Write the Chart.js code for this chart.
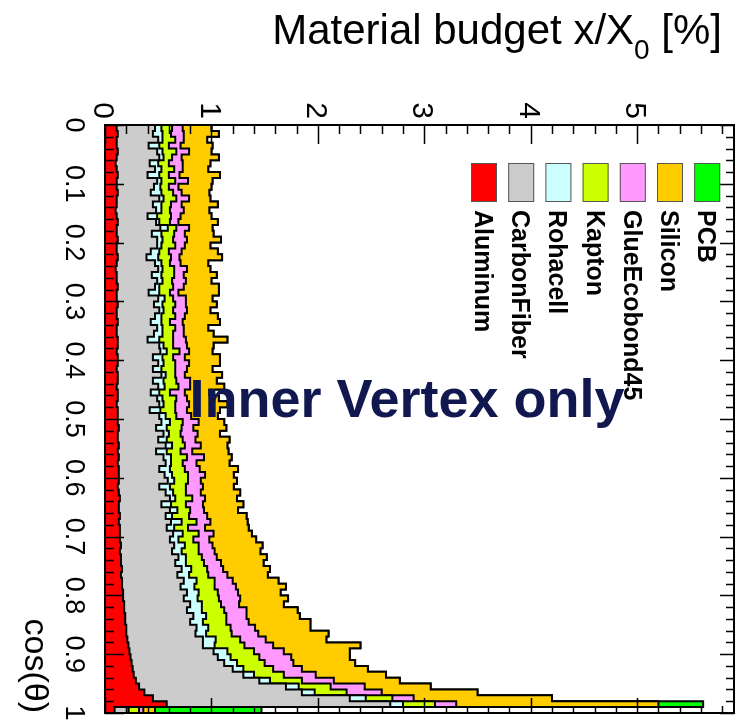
<!DOCTYPE html>
<html>
<head>
<meta charset="utf-8">
<script src="https://cdn.jsdelivr.net/npm/chart.js@4.4.1/dist/chart.umd.min.js"></script>
<style>
  html, body { margin: 0; padding: 0; background: #fff; }
  canvas { display: block; }
</style>
</head>
<body>
<canvas id="budgetChart" width="743" height="721"></canvas>
<script>
// material names and fill colours (stack order, innermost first)
const materials = ['Aluminum', 'CarbonFiber', 'Rohacell', 'Kapton', 'GlueEcobond45', 'Silicon', 'PCB'];
const materialColors = ['#ff0000', '#cccccc', '#ccffff', '#ccff00', '#ff99ff', '#ffcc00', '#00ff00'];

// x/X0 [%] per cos(theta) bin, bins of 0.01 from 0 to 1
const aluminum = [
  .11,.12,.11,.11,.12,.11,.10,.11,.12,.11,
  .11,.12,.11,.11,.10,.11,.12,.11,.11,.12,
  .11,.11,.12,.11,.10,.11,.11,.12,.11,.11,
  .12,.11,.11,.12,.11,.11,.12,.12,.11,.12,
  .12,.11,.12,.12,.11,.12,.12,.11,.12,.12,
  .12,.13,.12,.12,.13,.12,.13,.12,.13,.13,
  .13,.12,.13,.14,.13,.13,.14,.13,.14,.14,
  .14,.15,.14,.15,.15,.16,.15,.16,.16,.17,
  .17,.18,.18,.19,.19,.20,.20,.21,.22,.23,
  .24,.25,.26,.27,.29,.32,.37,.45,.58,.09
];
const carbonFiber = [
  .36,.33,.39,.30,.37,.40,.32,.36,.28,.38,
  .35,.31,.40,.34,.38,.29,.36,.41,.33,.37,
  .38,.32,.27,.36,.40,.33,.38,.35,.30,.39,
  .34,.40,.36,.31,.38,.35,.28,.39,.41,.33,
  .38,.34,.41,.33,.39,.31,.37,.40,.30,.39,
  .41,.35,.43,.38,.44,.36,.42,.45,.38,.43,
  .46,.39,.44,.47,.40,.48,.43,.49,.44,.50,
  .47,.50,.49,.54,.51,.56,.53,.58,.55,.60,
  .57,.62,.59,.64,.61,.66,.65,.71,.70,.79,
  .82,.87,.94,1.03,1.16,1.38,1.48,1.85,2.10,.13
];
const rohacell = [
  .06,.09,.04,.10,.05,.04,.08,.06,.11,.04,
  .06,.10,.04,.08,.05,.09,.03,.07,.09,.05,
  .04,.08,.11,.06,.04,.09,.05,.04,.10,.06,
  .08,.04,.06,.10,.05,.08,.11,.04,.06,.09,
  .05,.08,.04,.10,.06,.08,.05,.04,.10,.06,
  .08,.10,.05,.08,.06,.10,.07,.05,.10,.07,
  .06,.10,.07,.05,.09,.07,.06,.10,.07,.09,
  .08,.10,.09,.07,.10,.09,.11,.12,.13,.11,
  .13,.11,.14,.12,.12,.11,.10,.12,.11,.13,
  .12,.12,.10,.10,.10,.12,.12,.15,.12,.00
];
const kapton = [
  .10,.08,.12,.09,.13,.08,.10,.12,.09,.13,
  .08,.11,.12,.09,.08,.13,.10,.08,.12,.10,
  .13,.09,.12,.08,.11,.12,.09,.13,.10,.08,
  .12,.09,.13,.08,.12,.10,.13,.09,.12,.10,
  .11,.13,.09,.12,.13,.10,.13,.11,.14,.10,
  .12,.14,.11,.15,.12,.13,.15,.11,.14,.15,
  .13,.15,.12,.16,.14,.12,.16,.14,.13,.15,
  .14,.13,.16,.15,.17,.15,.18,.17,.19,.18,
  .20,.18,.21,.19,.22,.21,.24,.23,.28,.25,
  .27,.26,.28,.28,.30,.30,.30,.25,.30,.10
];
const glueEcobond45 = [
  .10,.12,.08,.11,.12,.09,.13,.08,.10,.12,
  .09,.08,.12,.10,.13,.09,.08,.12,.10,.13,
  .09,.12,.08,.10,.12,.09,.13,.10,.08,.12,
  .10,.13,.09,.12,.08,.10,.12,.13,.09,.11,
  .13,.11,.09,.13,.11,.14,.10,.13,.11,.14,
  .15,.11,.16,.12,.15,.11,.16,.13,.14,.16,
  .12,.16,.14,.12,.16,.13,.17,.13,.16,.14,
  .15,.13,.15,.14,.16,.15,.18,.17,.20,.19,
  .20,.17,.21,.19,.21,.23,.25,.24,.27,.28,
  .30,.27,.27,.30,.30,.32,.33,.20,.20,.04
];
const silicon = [
  .27,.33,.22,.30,.21,.35,.26,.24,.38,.23,
  .31,.26,.20,.34,.24,.29,.37,.22,.27,.32,
  .24,.34,.40,.26,.22,.31,.24,.33,.38,.25,
  .29,.22,.31,.35,.23,.28,.39,.25,.22,.33,
  .29,.24,.35,.25,.32,.23,.30,.36,.31,.25,
  .24,.31,.21,.32,.25,.34,.26,.31,.36,.27,
  .34,.29,.37,.30,.38,.32,.37,.35,.41,.36,
  .44,.47,.43,.47,.40,.44,.38,.43,.47,.40,
  .45,.42,.48,.50,.58,.52,.66,.57,.82,.62,
  .55,.58,.62,.66,.62,.62,.90,1.30,1.90,.11
];
const pcb = [
  0,0,0,0,0,0,0,0,0,0,
  0,0,0,0,0,0,0,0,0,0,
  0,0,0,0,0,0,0,0,0,0,
  0,0,0,0,0,0,0,0,0,0,
  0,0,0,0,0,0,0,0,0,0,
  0,0,0,0,0,0,0,0,0,0,
  0,0,0,0,0,0,0,0,0,0,
  0,0,0,0,0,0,0,0,0,0,
  0,0,0,0,0,0,0,0,0,0,
  0,0,0,0,0,0,0,0,.42,1.00
];

const binWidth = 0.01;
const budgetMax = 5.91;
const budgetTickLabels = ['0', '1', '2', '3', '4', '5'];
const cosTickLabels = ['0', '0.1', '0.2', '0.3', '0.4', '0.5', '0.6', '0.7', '0.8', '0.9', '1'];

const layers = [aluminum, carbonFiber, rohacell, kapton, glueEcobond45, silicon, pcb];

// build the cumulative (THStack-like) step outlines
const running = new Array(aluminum.length).fill(0);
const datasets = layers.map(function(vals, k) {
    const pts = vals.map(function(v, i) {
        running[i] += v;
        return { x: running[i], y: i * binWidth };
    });
    pts.push({ x: running[vals.length - 1], y: vals.length * binWidth });
    return {
        label: materials[k],
        data: pts,
        backgroundColor: materialColors[k],
        borderColor: '#000',
        borderWidth: 2,
        fill: 'origin',
        stepped: 'after',
        pointRadius: 0,
        tension: 0
    };
});

const FONT = '"Liberation Sans", Arial, Helvetica, sans-serif';

// text rotated 90 deg clockwise, reads top to bottom
function vText(ctx, str, x, y, align) {
    ctx.save();
    ctx.translate(x, y);
    ctx.rotate(Math.PI / 2);
    ctx.textAlign = align;
    ctx.textBaseline = 'alphabetic';
    ctx.fillText(str, 0, 0);
    ctx.restore();
}

const rootFrame = {
    id: 'rootFrame',
    afterDatasetsDraw(chart) {
        const { ctx, chartArea: a, scales } = chart;
        const xs = scales.x, ys = scales.y;
        ctx.save();
        ctx.strokeStyle = '#000';
        ctx.lineWidth = 1.5;
        ctx.beginPath();
        // ticks along the budget axis (top and bottom)
        for (let v = 0; v <= budgetMax + 1e-9; v += 0.2) {
            const px = Math.round(xs.getPixelForValue(v)) + 0.5;
            const major = Math.abs(v - Math.round(v)) < 1e-6;
            const lt = major ? 19 : 9;
            const lb = major ? 15 : 7;
            ctx.moveTo(px, a.top); ctx.lineTo(px, a.top + lt);
            ctx.moveTo(px, a.bottom); ctx.lineTo(px, a.bottom - lb);
        }
        // ticks along the cos axis (left and right)
        for (let c = 0; c <= 1 + 1e-9; c += 0.02) {
            const py = Math.round(ys.getPixelForValue(c)) + 0.5;
            const major = Math.abs(c * 10 - Math.round(c * 10)) < 1e-6;
            const l = major ? 19 : 9;
            const r = major ? 14 : 8;
            ctx.moveTo(a.left, py); ctx.lineTo(a.left + l, py);
            ctx.moveTo(a.right, py); ctx.lineTo(a.right - r, py);
        }
        ctx.stroke();
        ctx.lineWidth = 2;
        ctx.strokeRect(a.left, a.top, a.right - a.left, a.bottom - a.top);
        ctx.restore();
    },
    afterDraw(chart) {
        const { ctx, scales } = chart;
        const xs = scales.x, ys = scales.y;
        ctx.save();
        ctx.fillStyle = '#000';

        // budget tick labels above the frame
        let fs = 30;
        ctx.font = fs + 'px ' + FONT;
        budgetTickLabels.forEach(function(lab) {
            const px = xs.getPixelForValue(Number(lab));
            vText(ctx, lab, px - 0.36 * fs, 119, 'right');
        });

        // cos(theta) tick labels left of the frame
        fs = 27;
        ctx.font = fs + 'px ' + FONT;
        cosTickLabels.forEach(function(lab) {
            const py = ys.getPixelForValue(Number(lab));
            vText(ctx, lab, 66, py, 'center');
        });

        // axis titles
        ctx.font = '34px ' + FONT;
        vText(ctx, 'cos(\u03b8)', 25, 713, 'right');

        ctx.textAlign = 'left';
        ctx.textBaseline = 'alphabetic';
        const big = '42px ' + FONT, small = '28px ' + FONT;
        const t1 = 'Material budget x/X';
        const t2 = ' [%]';
        ctx.font = small;
        const wSub = ctx.measureText('0').width;
        ctx.font = big;
        const w1 = ctx.measureText(t1).width;
        const w2 = ctx.measureText(t2).width;
        const tx = 722 - (w1 + wSub + w2);
        ctx.fillText(t1, tx, 44);
        ctx.fillText(t2, tx + w1 + wSub, 44);
        ctx.font = small;
        ctx.fillText('0', tx + w1, 59);

        // legend
        const bx0 = 471, dx = 37.2, bw = 26, bh = 39, by = 163;
        chart.data.datasets.forEach(function(ds, k) {
            const bx = bx0 + k * dx;
            ctx.fillStyle = ds.backgroundColor;
            ctx.fillRect(bx, by, bw, bh);
            ctx.strokeStyle = '#555';
            ctx.lineWidth = 1;
            ctx.strokeRect(bx + 0.5, by + 0.5, bw - 1, bh - 1);
            ctx.fillStyle = '#000';
            ctx.font = 'bold 25px ' + FONT;
            vText(ctx, ds.label, bx + bw / 2 - 0.36 * 25, 210, 'left');
        });

        // overlay note
        ctx.font = 'bold 54px ' + FONT;
        ctx.fillStyle = '#10184f';
        ctx.textAlign = 'center';
        ctx.fillText('Inner Vertex only', 407, 417);
        ctx.restore();
    }
};

new Chart(document.getElementById('budgetChart'), {
    type: 'line',
    data: { datasets: datasets },
    options: {
        indexAxis: 'y',
        responsive: false,
        animation: false,
        devicePixelRatio: 1,
        layout: { padding: { left: 105, top: 125, right: 9, bottom: 8 } },
        scales: {
            x: { type: 'linear', position: 'top', min: 0, max: budgetMax, display: false },
            y: { type: 'linear', min: 0, max: 1, reverse: true, display: false }
        },
        plugins: {
            legend: { display: false },
            tooltip: { enabled: false }
        },
        elements: { line: { borderJoinStyle: 'miter' } }
    },
    plugins: [rootFrame]
});
</script>
</body>
</html>
